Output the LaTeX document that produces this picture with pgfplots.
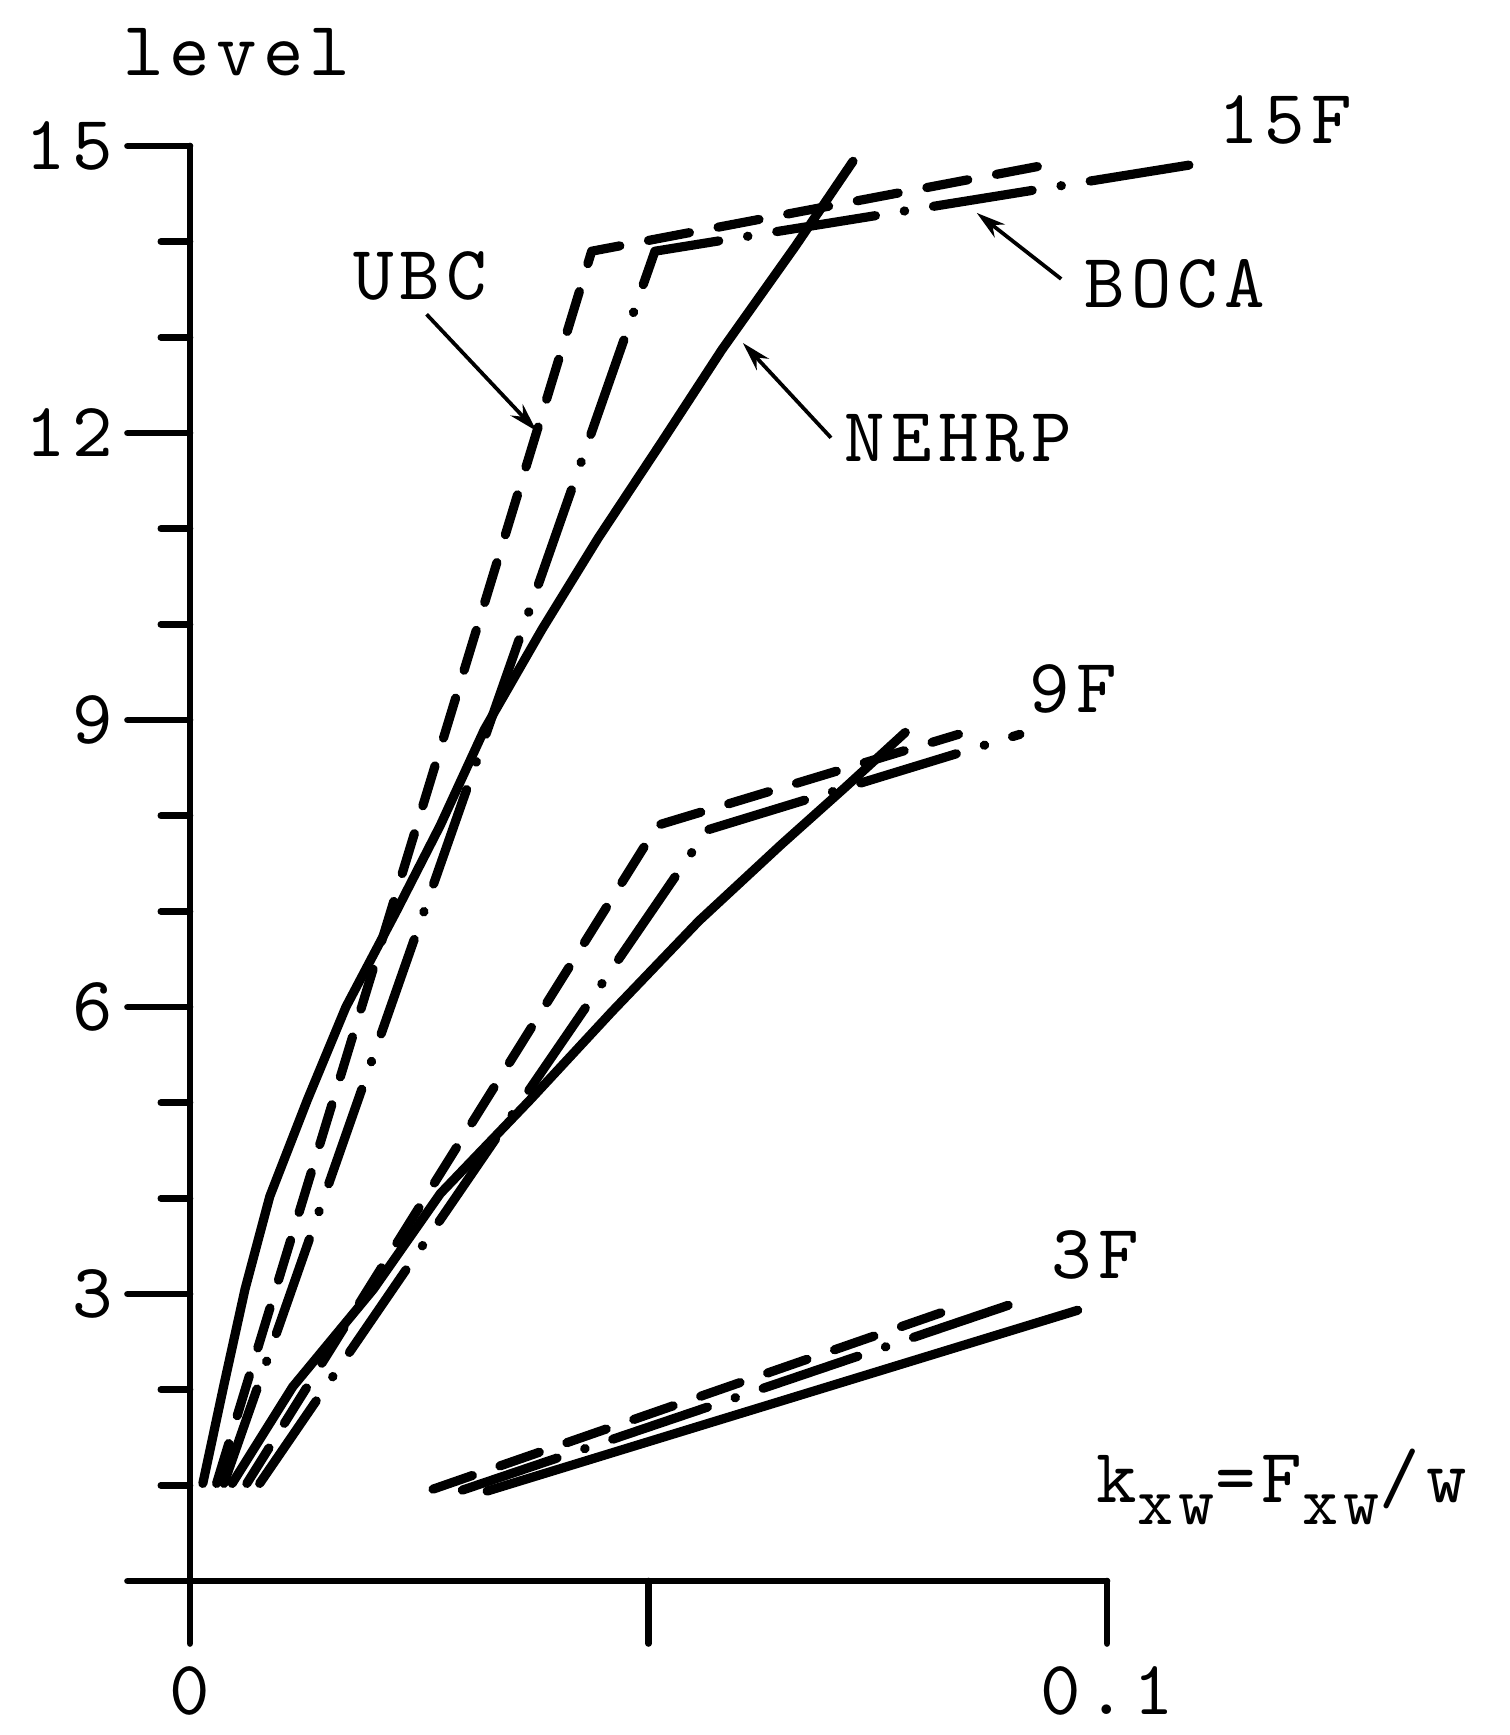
\documentclass[border=0pt]{standalone}
\usepackage{fontspec}
\newfontfamily\tw{lmmono10-regular.otf}[LetterSpace=8]
\usepackage{pgfplots}
\pgfplotsset{compat=1.18}
\usetikzlibrary{arrows.meta}
\newcommand{\fs}{\tw\fontsize{18.5}{20}\selectfont}
\newcommand{\sub}[1]{\raisebox{-5.5pt}{\fontsize{16.5}{18}\selectfont #1}}
\begin{document}
\begin{tikzpicture}
\useasboundingbox (-45.6pt,-36.96pt) rectangle (316.56pt,379.44pt);
\begin{axis}[
  at={(0pt,0pt)}, anchor=south west,
  scale only axis, width=220.08pt, height=344.4pt,
  xmin=0, xmax=0.1, ymin=0, ymax=15,
  axis x line=bottom, axis y line=left,
  axis line style={-, line width=1.6pt, line cap=round},
  clip=false,
  xtick={0,0.05,0.1}, xticklabels={0,,0.1},
  ytick={0,3,6,9,12,15}, yticklabels={,3,6,9,12,15},
  minor ytick={1,2,4,5,7,8,10,11,13,14},
  tick align=outside,
  major tick length=15pt, minor tick length=7pt,
  tick style={black, line width=1.6pt, line cap=round},
  tick label style={font=\fs},
  xticklabel style={yshift=-2pt},
  every axis plot/.append style={black, line width=2.2pt, line cap=round, line join=round},
]
% ---- 15F ----
\addplot[dash pattern=on 10pt off 7pt] coordinates {(0.0029,1.02) (0.0438,13.9) (0.0938,14.81)};
\addplot[dash pattern=on 24pt off 7pt on 0.1pt off 7pt] coordinates {(0.0037,1.02) (0.0507,13.9) (0.1096,14.81)};
\addplot[solid] coordinates {(0.0014,1.02) (0.0037,2.05) (0.0060,3.05) (0.0087,4.02) (0.0128,5.03) (0.0170,6.0) (0.0225,7.0) (0.0273,7.9) (0.0321,8.9) (0.0384,9.95) (0.0445,10.9) (0.0514,11.9) (0.0580,12.87) (0.0660,13.95) (0.0723,14.84)};
% ---- 9F ----
\addplot[dash pattern=on 10pt off 7pt] coordinates {(0.0062,1.02) (0.0510,7.9) (0.0838,8.85)};
\addplot[dash pattern=on 24pt off 7pt on 0.1pt off 7pt] coordinates {(0.0076,1.02) (0.0564,7.85) (0.0905,8.85)};
\addplot[solid] coordinates {(0.0046,1.02) (0.0112,2.03) (0.0200,3.05) (0.0273,4.05) (0.0371,5.03) (0.0460,5.95) (0.0555,6.9) (0.0645,7.7) (0.0715,8.3) (0.0780,8.87)};
% ---- 3F ----
\addplot[dash pattern=on 10pt off 7pt] coordinates {(0.0265,0.96) (0.0848,2.90)};
\addplot[dash pattern=on 24pt off 7pt on 0.1pt off 7pt] coordinates {(0.0297,0.95) (0.0901,2.91)};
\addplot[solid] coordinates {(0.0324,0.94) (0.0968,2.83)};
% ---- labels ----
\node[font=\fs] at (axis cs:0.0051,15.98) {level};
\node[font=\fs] at (axis cs:0.1194,15.27) {15F};
\node[font=\fs] at (axis cs:0.0963,9.32) {9F};
\node[font=\fs] at (axis cs:0.0987,3.41) {3F};
\node[font=\fs] at (axis cs:0.0251,13.64) {UBC};
\node[font=\fs] at (axis cs:0.0838,11.94) {NEHRP};
\node[font=\fs] at (axis cs:0.1074,13.56) {BOCA};
\draw[line width=0.9pt, -{Stealth[length=7pt,width=4pt]}] (axis cs:0.0258,13.24) -- (axis cs:0.0378,12.02);
\draw[line width=0.9pt, -{Stealth[length=7pt,width=4pt]}] (axis cs:0.0699,11.95) -- (axis cs:0.0603,12.94);
\draw[line width=0.9pt, -{Stealth[length=7pt,width=4pt]}] (axis cs:0.0950,13.61) -- (axis cs:0.0858,14.30);
\node[font=\fs, anchor=base west, inner sep=0pt] at (axis cs:0.0988,0.825) {k\sub{xw}=F\sub{xw}/w};
\end{axis}
\end{tikzpicture}
\end{document}
